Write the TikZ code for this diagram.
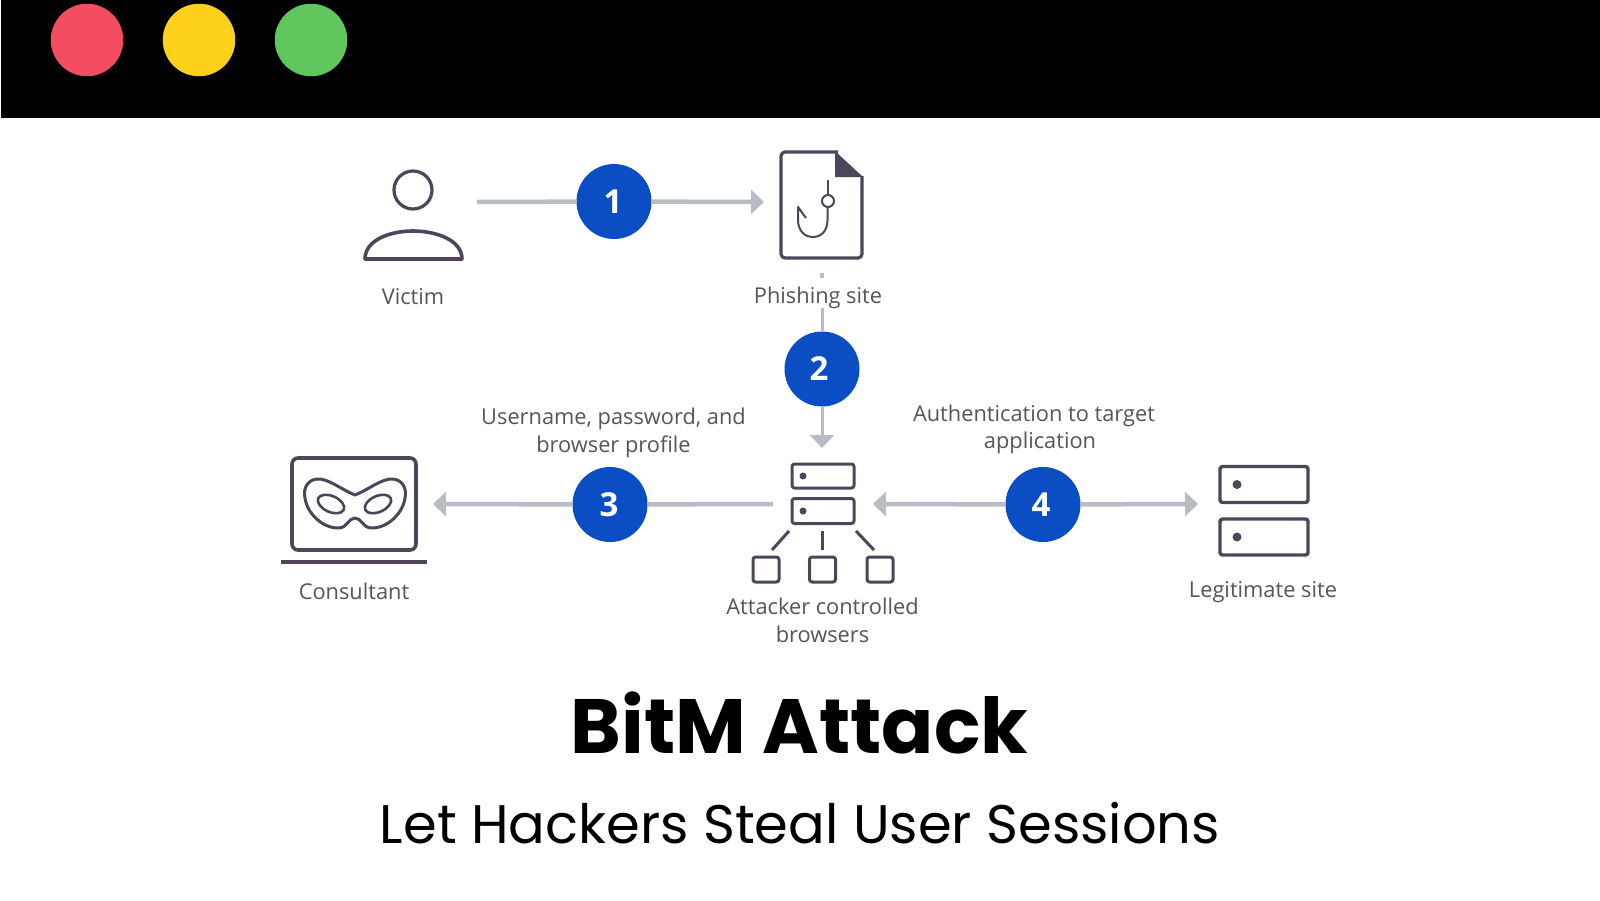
\documentclass[tikz,border=0pt]{standalone}
\usepackage{fontspec}
\usetikzlibrary{arrows.meta,calc}
\setmainfont{Open Sans}
\newfontfamily\popreg{Poppins}
\newfontfamily\popbold{Poppins}[UprightFont=* Bold]
\definecolor{ink}{HTML}{4E4658}
\definecolor{flow}{HTML}{B7BDC3}
\definecolor{stepblue}{HTML}{0B4EC4}
\definecolor{lab}{HTML}{55555A}
\newcommand{\stepdigit}[2]{\kern-#1pt\raisebox{-1pt}{#2}}
\tikzset{
  icon/.style={draw=ink,line width=3.2pt,line join=round},
  iconbox/.style={icon,rectangle,rounded corners=2.5pt,inner sep=0pt,fill=white},
  dotm/.style={circle,fill=ink,inner sep=0pt,minimum size=#1},
  stepnode/.style={circle,fill=stepblue,text=white,inner sep=0pt,minimum size=75pt,font=\fontsize{33}{33}\selectfont\bfseries},
  flowline/.style={draw=flow,line width=4.5pt},
  flowarrow/.style={flowline,-{Triangle[length=13pt,width=24pt]}},
  lbl/.style={text=lab,inner sep=0pt,align=center,font=\fontsize{21.8}{27.5}\selectfont},
  lightnode/.style={circle,inner sep=0pt,minimum size=72.5pt}
}
\begin{document}
\begin{tikzpicture}[x=1pt,y=-1pt]
\useasboundingbox (0,0) rectangle (1600,900);
\fill[white] (0,0) rectangle (1600,900);
\fill[black] (1,0) rectangle (1600,118);
\node[lightnode,fill={rgb,255:red,244;green,76;blue,97}] (red) at (87,40) {};
\node[lightnode,fill={rgb,255:red,252;green,208;blue,27}] (yellow) at (199,40) {};
\node[lightnode,fill={rgb,255:red,97;green,199;blue,92}] (green) at (311,40) {};
% victim
\draw[icon] (413,190) circle [radius=19];
\draw[icon,line width=3.6pt] (365,259) .. controls (365,240) and (390,231) .. (413,231) .. controls (436,231) and (462,240) .. (462,259) -- cycle;
\node[lbl] (victim) at (413,296.5) {Victim};
% phishing document
\draw[icon,rounded corners=4pt] (838,152) -- (781,152) -- (781,258) -- (862,258) -- (862,176);
\fill[ink] (835,151) -- (863,177) -- (835,177) -- cycle;
\draw[icon,line width=2pt] (827.5,180) -- (827.5,195);
\draw[icon,line width=2pt] (828,201) circle [radius=6];
\draw[icon,line width=2pt] (827.5,207) -- (827.5,220) .. controls (827.5,231) and (821,237) .. (813,237) .. controls (804,237) and (798,230) .. (798,220) -- (798,207) -- (806,218);
\node[lbl] (phish) at (818,298) {Phishing site};
% laptop
\node[iconbox,minimum width=124pt,minimum height=92pt,rounded corners=6pt,line width=3.6pt] (laptop) at (354,504) {};
\draw[icon,line width=3.6pt] (281,562) -- (427,562);
\draw[icon,line width=3pt] (355,495) .. controls (368,490) and (382,478) .. (393,479) .. controls (403,480) and (407,489) .. (405,498) .. controls (403,513) and (388,528) .. (372,528) .. controls (362,528) and (362,518) .. (355,518) .. controls (348,518) and (348,528) .. (338,528) .. controls (322,528) and (307,513) .. (305,498) .. controls (303,489) and (307,480) .. (317,479) .. controls (328,478) and (342,490) .. (355,495) -- cycle;
\draw[icon,line width=2.6pt,rotate around={-24:(331,504)}] (331,504) ellipse [x radius=14,y radius=8];
\draw[icon,line width=2.6pt,rotate around={24:(378,504)}] (378,504) ellipse [x radius=14,y radius=8];
\node[lbl] (consultant) at (354,591) {Consultant};
% attacker browsers
\node[iconbox,minimum width=62pt,minimum height=24pt,line width=3pt] (atk1) at (823,476) {};
\node[iconbox,minimum width=62pt,minimum height=25pt,line width=3pt] (atk2) at (823,511) {};
\node[dotm=7pt] (atkd1) at (803,476) {};
\node[dotm=7pt] (atkd2) at (803,511) {};
\node[iconbox,minimum width=26pt,minimum height=25pt,line width=3pt] (bw1) at (766,569.5) {};
\node[iconbox,minimum width=26pt,minimum height=25pt,line width=3pt] (bw2) at (822.5,569.5) {};
\node[iconbox,minimum width=26pt,minimum height=25pt,line width=3pt] (bw3) at (880,569.5) {};
\coordinate (l1a) at (789,531); \coordinate (l1b) at (772,550);
\coordinate (l2a) at (822,531); \coordinate (l2b) at (822,550);
\coordinate (l3a) at (856,531); \coordinate (l3b) at (874,550);
\draw[icon,line width=3pt] (l1a) -- (l1b);
\draw[icon,line width=3pt] (l2a) -- (l2b);
\draw[icon,line width=3pt] (l3a) -- (l3b);
\node[lbl] (atk) at (822.5,620.5) {Attacker controlled\\browsers};
% legitimate site
\node[iconbox,minimum width=88pt,minimum height=36pt,line width=3.4pt] (leg1) at (1264,484.5) {};
\node[iconbox,minimum width=88pt,minimum height=36pt,line width=3.4pt] (leg2) at (1264,537) {};
\node[dotm=9pt] (legd1) at (1237,484.5) {};
\node[dotm=9pt] (legd2) at (1237,537) {};
\node[lbl] (legit) at (1263,592) {Legitimate site};
% steps
\node[stepnode] (s1) at (614,201.5) {\stepdigit{2}{1}};
\node[stepnode] (s2) at (822,369) {\stepdigit{6}{2}};
\node[stepnode] (s3) at (610,504.5) {\stepdigit{2}{3}};
\node[stepnode] (s4) at (1043,504.5) {\stepdigit{4}{4}};
% flows
\coordinate (c1a) at (477,202); \coordinate (c1b) at (764,202);
\coordinate (c2a) at (822,308); \coordinate (c2b) at (822,448);
\coordinate (c2t) at (822,273); \coordinate (c2u) at (822,278);
\coordinate (c3a) at (773,504); \coordinate (c3b) at (433,504);
\coordinate (c4a) at (873,504); \coordinate (c4b) at (1198,504);
\draw[flowline] (c1a) -- (s1);
\draw[flowarrow] (s1) -- (c1b);
\draw[flowline] (c2t) -- (c2u);
\draw[flowline,line width=3pt] (c2a) -- (s2);
\draw[flowarrow,line width=3pt] (s2) -- (c2b);
\draw[flowline] (c3a) -- (s3);
\draw[flowarrow] (s3) -- (c3b);
\draw[flowarrow] (s4) -- (c4a);
\draw[flowarrow] (s4) -- (c4b);
\node[lbl] (l3) at (613.5,433) {Username, password, and\\browser profile};
\node[lbl] (l4) at (1034,429.5) {Authentication to target\\\hspace*{12pt}application};
% titles
\node[inner sep=0pt,anchor=base,text=black,font=\popbold\fontsize{77}{77}\selectfont] (title) at (799.5,753) {BitM Attack};
\node[inner sep=0pt,anchor=base,text=black,font=\popreg\fontsize{54.3}{54}\selectfont] (sub) at (800,843) {Let Hackers Steal User Sessions};
\end{tikzpicture}
\end{document}
